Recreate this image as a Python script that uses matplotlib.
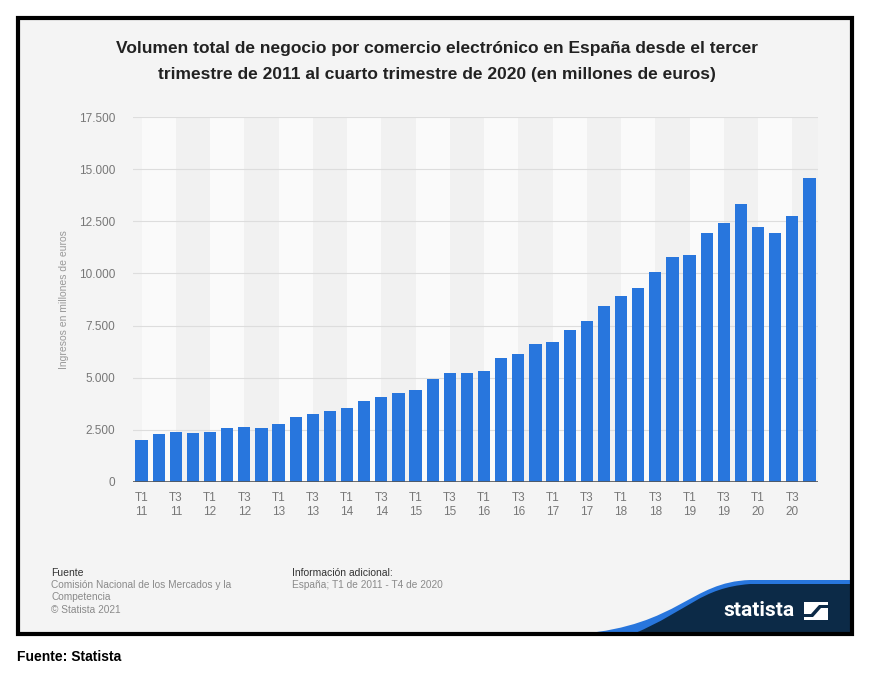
"""Statista-style bar chart: e-commerce volume in Spain, T1 2011 - T4 2020."""
import matplotlib
matplotlib.use('Agg')
import matplotlib.pyplot as plt
import numpy as np
from matplotlib.patches import Rectangle, PathPatch, Polygon
from matplotlib.path import Path

plt.rcParams['font.family'] = ['Liberation Sans', 'DejaVu Sans']

# quarters T1 2011 .. T4 2020
quarters = [f"T{q} {y}" for y in range(11, 21) for q in (1, 2, 3, 4)]
values = [2030, 2290, 2385, 2340, 2385, 2595, 2655, 2595, 2770, 3140,
          3250, 3395, 3555, 3875, 4085, 4290, 4400, 4930, 5240, 5235,
          5345, 5940, 6130, 6610, 6725, 7300, 7735, 8455, 8935, 9300,
          10055, 10790, 10890, 11960, 12425, 13320, 12215, 11960, 12745, 14555]
tick_labels = [q.replace(" ", "\n") for q in quarters]
y_ticks = [0, 2500, 5000, 7500, 10000, 12500, 15000, 17500]
y_tick_labels = ["0", "2.500", "5.000", "7.500", "10.000", "12.500", "15.000", "17.500"]

BAR = "#2876dd"
GRAY_TXT = "#777777"
CARD = "#f4f4f4"
NAVY = "#0c2a47"

W, H = 877, 688
fig = plt.figure(figsize=(W / 100, H / 100), dpi=100)
fig.patch.set_facecolor("white")

# background layer in pixel coordinates (frame, title, footer, logo)
bg = fig.add_axes([0, 0, 1, 1], zorder=0)
bg.set_xlim(0, W)
bg.set_ylim(H, 0)
bg.axis('off')
bg.add_patch(Rectangle((18, 18), 834, 616, facecolor=CARD, edgecolor="none"))

# statista wave logo
verts = [(633, 634), (690, 610), (700, 588), (750, 584), (851, 584), (851, 634), (633, 634)]
codes = [Path.MOVETO, Path.CURVE4, Path.CURVE4, Path.CURVE4, Path.LINETO, Path.LINETO, Path.CLOSEPOLY]
stripe = [(580, 634), (680, 625), (690, 582), (750, 580), (851, 580), (851, 586), (750, 586),
          (705, 590), (695, 612), (633, 634), (580, 634)]
s_codes = [Path.MOVETO, Path.CURVE4, Path.CURVE4, Path.CURVE4, Path.LINETO, Path.LINETO,
           Path.CURVE4, Path.CURVE4, Path.CURVE4, Path.LINETO, Path.CLOSEPOLY]
bg.add_patch(PathPatch(Path(stripe, s_codes), facecolor=BAR, edgecolor="none"))
bg.add_patch(PathPatch(Path(verts, codes), facecolor=NAVY, edgecolor="none"))
bg.text(759, 610, "statista", color="white", fontsize=15, fontweight='bold',
        ha='center', va='center', family=['Roboto', 'DejaVu Sans'])
# icon: white square cut by a dark diagonal stripe
bg.add_patch(Rectangle((804, 602), 24, 18, facecolor="white", edgecolor="none"))
bg.add_patch(Polygon([(804, 614), (811, 614), (819, 605), (828, 605), (828, 608),
                      (821, 608), (813, 617), (804, 617)], closed=True,
                     facecolor=NAVY, edgecolor="none"))

bg.add_patch(Rectangle((18, 18), 834, 616, facecolor="none", edgecolor="black", linewidth=3))

bg.text(437, 48, "Volumen total de negocio por comercio electrónico en España desde el tercer",
        ha='center', va='center', fontsize=12.5, fontweight='bold', color="#222222")
bg.text(437, 75, "trimestre de 2011 al cuarto trimestre de 2020 (en millones de euros)",
        ha='center', va='center', fontsize=12.5, fontweight='bold', color="#222222")

bg.text(64, 300, "Ingresos en millones de euros", rotation=90, ha='center', va='center',
        fontsize=7.5, color="#999999")

bg.text(51, 573, "Fuente", ha='left', va='center', fontsize=7.5, color="#333333")
for k, line in enumerate(["Comisión Nacional de los Mercados y la", "Competencia", "© Statista 2021"]):
    bg.text(51, 585 + 12.5 * k, line, ha='left', va='center', fontsize=7.3, color="#8a8a8a")
bg.text(292, 573, "Información adicional:", ha='left', va='center', fontsize=7.5, color="#333333")
bg.text(292, 585, "España; T1 de 2011 - T4 de 2020", ha='left', va='center', fontsize=7.3, color="#8a8a8a")

bg.text(17, 657, "Fuente: Statista", ha='left', va='center', fontsize=10, fontweight='bold', color="black")

# main plot
ax = fig.add_axes([133 / W, 1 - 482 / H, (818 - 133) / W, (482 - 117) / H], zorder=1)
ax.set_facecolor("none")
x = np.arange(len(values))
ax.set_xlim(-0.5, len(values) - 0.5)
ax.set_ylim(0, 17500)

for i in range(0, len(values), 2):
    color = "#fafafa" if (i // 2) % 2 == 0 else "#f1f1f1"
    ax.axvspan(i, min(i + 2, len(values) - 0.5), ymin=0, ymax=1, color=color, zorder=0, lw=0)

for yt in y_ticks[1:]:
    ax.axhline(yt, color="#dddddd", linewidth=0.8, zorder=1)

ax.bar(x, values, width=0.72, color=BAR, zorder=2)
ax.axhline(0, color="#555555", linewidth=1.2, zorder=3)

ax.set_xticks(x[::2])
ax.set_xticklabels(tick_labels[::2], fontsize=8.5, color=GRAY_TXT, linespacing=1.25)
ax.set_yticks(y_ticks)
ax.set_yticklabels(y_tick_labels, fontsize=8.5, color=GRAY_TXT)
ax.tick_params(axis='both', length=0)
ax.tick_params(axis='y', pad=13)
ax.tick_params(axis='x', pad=7)
for sp in ax.spines.values():
    sp.set_visible(False)

fig.savefig("out.png", dpi=100, facecolor="white")
